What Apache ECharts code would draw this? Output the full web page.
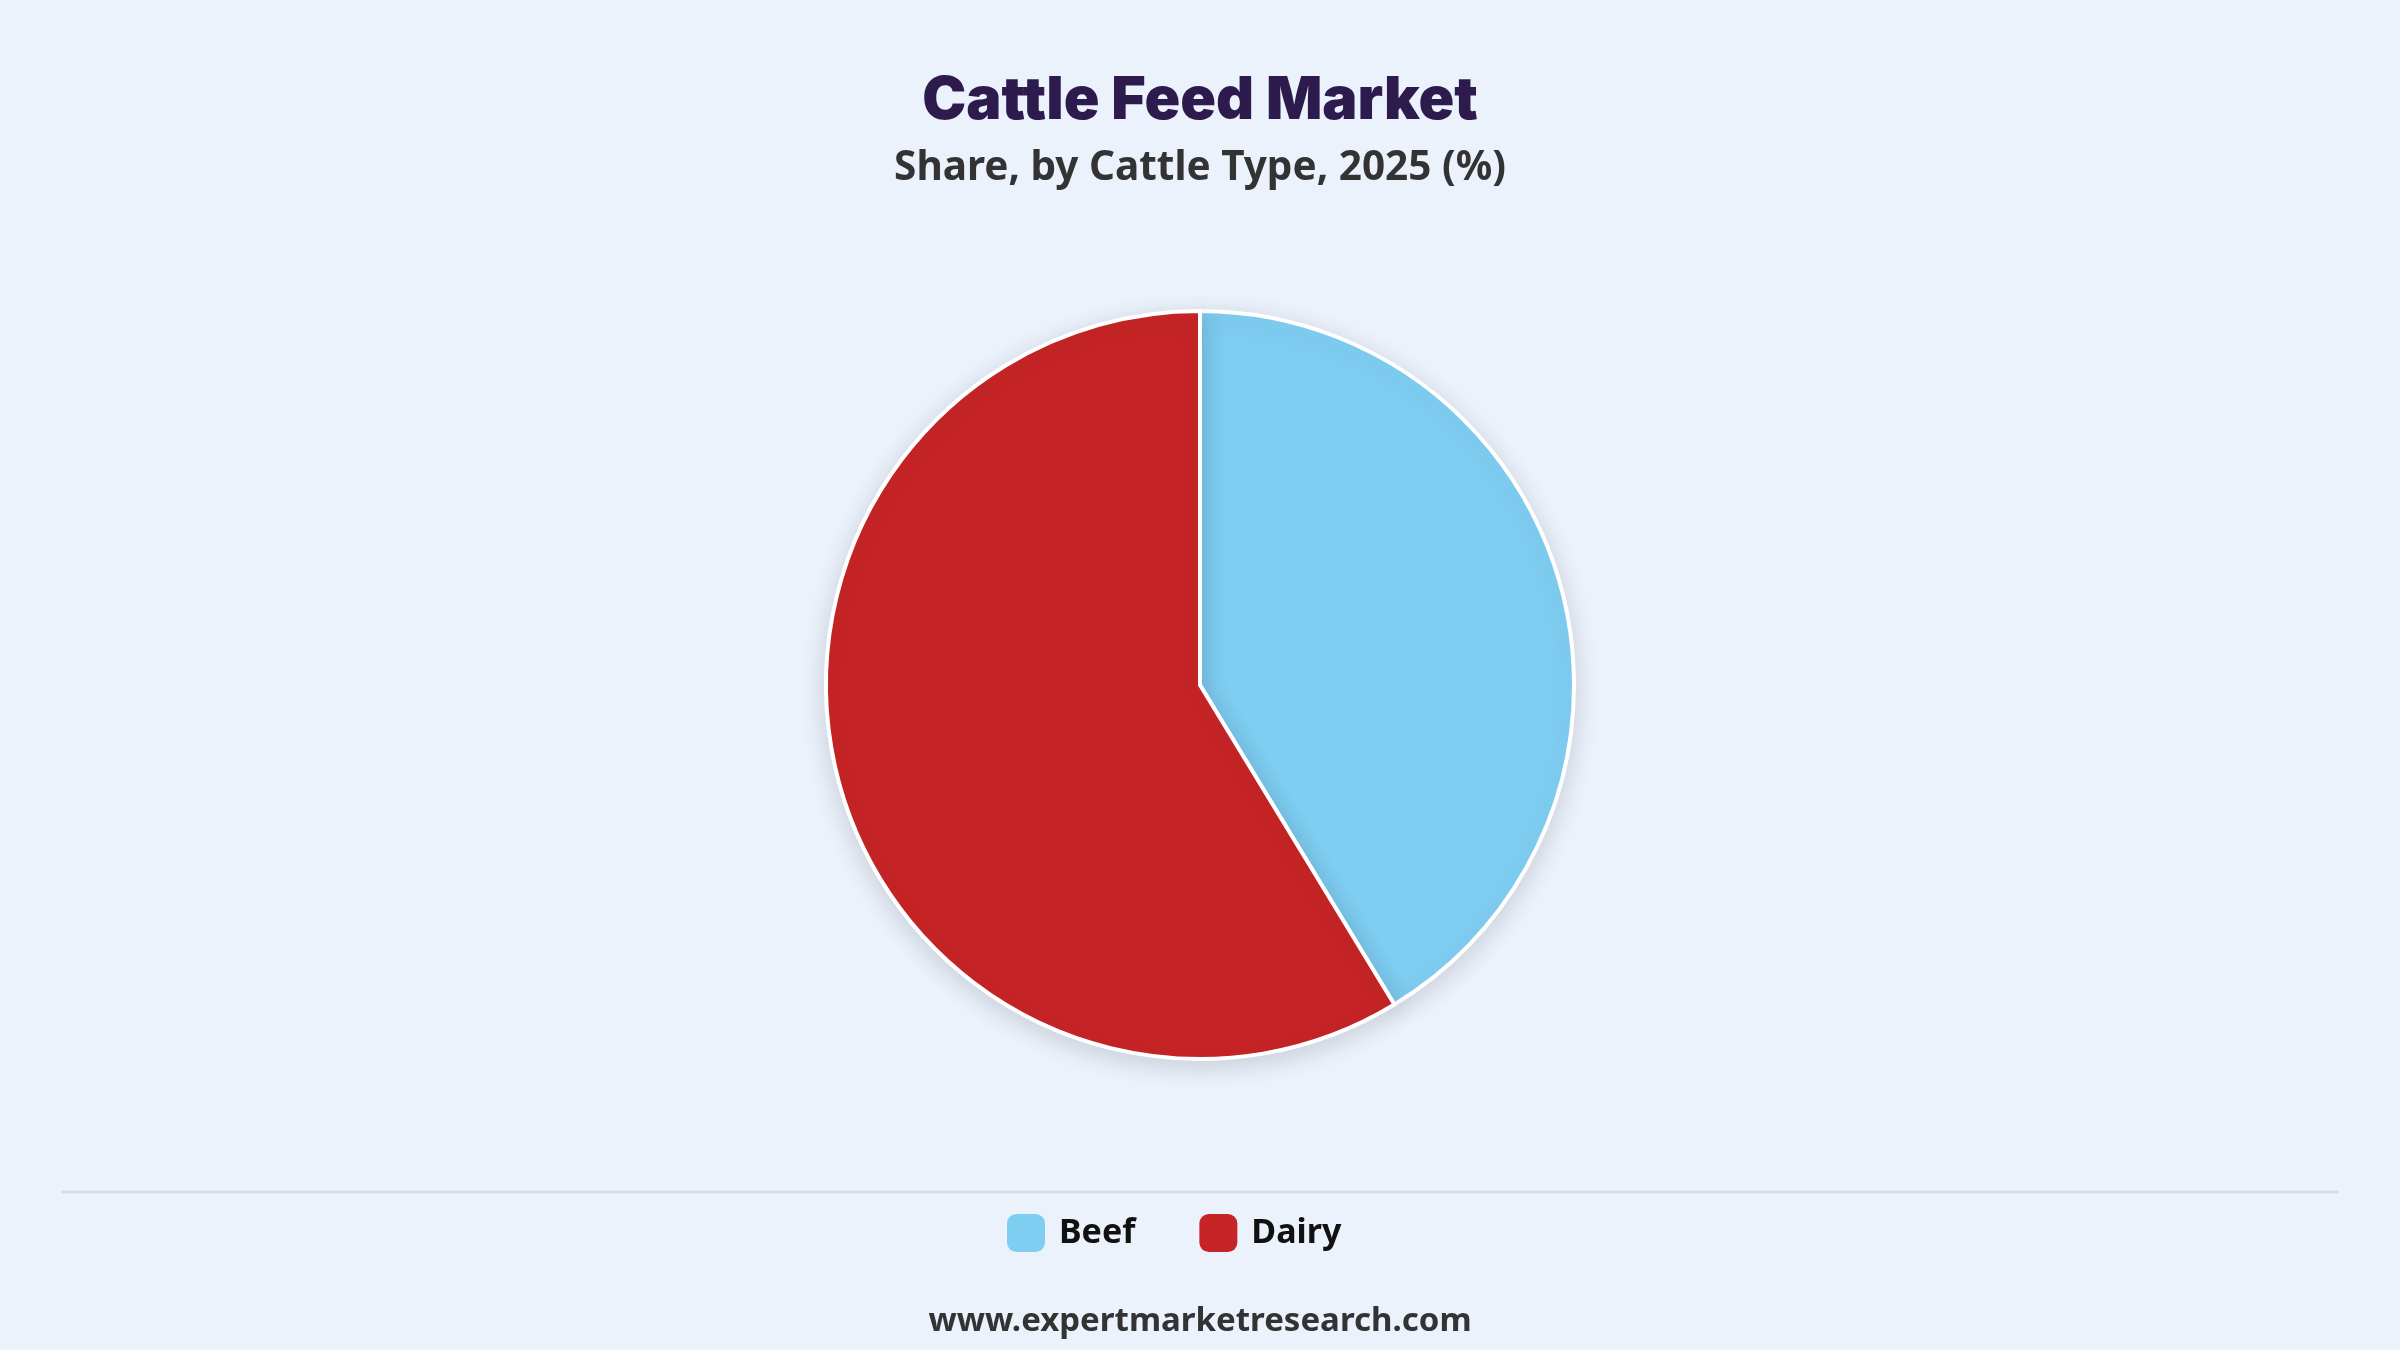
<!DOCTYPE html>
<html>
<head>
<meta charset="utf-8">
<title>Cattle Feed Market</title>
<script src="https://cdn.jsdelivr.net/npm/echarts@6/dist/echarts.min.js"></script>
<style>
  html, body { margin: 0; padding: 0; background: #EBF2FC; }
  #chart { width: 2400px; height: 1350px; }
</style>
</head>
<body>
<div id="chart"></div>
<script>
// 数据
var cattleTypes = ['Beef', 'Dairy'];
var shareValues = [41.3, 58.7];
var sliceColors = ['#7ECEF2', '#C62426'];

var pieData = [];
for (var i = 0; i < cattleTypes.length; i++) {
    pieData.push({
        name: cattleTypes[i],
        value: shareValues[i],
        itemStyle: {color: sliceColors[i]}
    });
}

var myChart = echarts.init(document.getElementById('chart'));

var option = {
    backgroundColor: '#EBF2FC',
    title: [
        {
            text: 'Cattle Feed Market',
            left: 'center',
            top: 67,
            textStyle: {
                fontFamily: 'Inter',
                fontWeight: 900,
                fontSize: 59,
                color: '#2D1B4E'
            }
        },
        {
            text: 'Share, by Cattle Type, 2025 (%)',
            left: 'center',
            top: 143,
            textStyle: {
                fontFamily: 'Noto Sans',
                fontWeight: 'bold',
                fontSize: 40.5,
                color: '#333333'
            }
        },
        {
            text: 'www.expertmarketresearch.com',
            left: 'center',
            top: 1300,
            textStyle: {
                fontFamily: 'Noto Sans',
                fontWeight: 'bold',
                fontSize: 33,
                color: '#333333'
            }
        }
    ],
    legend: {
        data: cattleTypes,
        bottom: 93,
        left: 1002,
        icon: 'roundRect',
        itemWidth: 38,
        itemHeight: 38,
        itemGap: 64,
        itemStyle: {borderWidth: 0, shadowBlur: 0},
        textStyle: {
            fontFamily: 'Noto Sans',
            fontWeight: 'bold',
            fontSize: 34,
            color: '#111111',
            padding: [0, 0, 0, 9]
        }
    },
    graphic: [
        {
            type: 'line',
            shape: {x1: 61, y1: 1192, x2: 2339, y2: 1192},
            style: {stroke: '#DADDE2', lineWidth: 3}
        }
    ],
    series: [
        {
            name: 'Share',
            type: 'pie',
            center: [1200, 685],
            radius: 374,
            startAngle: 90,
            clockwise: true,
            label: {show: false},
            labelLine: {show: false},
            emphasis: {disabled: true},
            itemStyle: {
                borderColor: '#FFFFFF',
                borderWidth: 4,
                shadowBlur: 26,
                shadowColor: 'rgba(0, 0, 0, 0.14)',
                shadowOffsetY: 6
            },
            data: pieData
        }
    ]
};

myChart.setOption(option);
</script>
</body>
</html>
